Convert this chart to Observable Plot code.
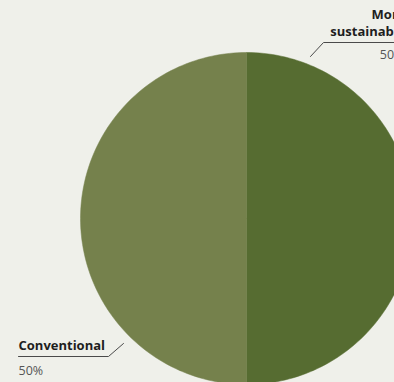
<!DOCTYPE html>
<html>
<head>
<meta charset="utf-8">
<script src="https://cdn.jsdelivr.net/npm/d3@7"></script>
<script src="https://cdn.jsdelivr.net/npm/@observablehq/plot@0.6"></script>
<style>
  html, body { margin: 0; padding: 0; background: #eff0ea; }
  #chart { width: 394px; height: 382px; overflow: hidden; }
</style>
</head>
<body>
<div id="chart"></div>
<script>
const categories = ["More sustainable", "Conventional"];
const shares = [50, 50];
const shareLabels = ["50%", "50%"];
const labelNames = ["More\nsustainable", "Conventional"];
const colors = ["#566c31", "#75814c"];

// layout (pixels)
const W = 394, H = 382, CX = 246, CY = 218, R = 166;
const X = px => (px - CX) / R;
const Y = py => (CY - py) / R;

const pie = d3.pie().sort(null).value(d => d)(shares);
const slicePts = [];
pie.forEach((s, i) => {
  slicePts.push({cat: categories[i], x: 0, y: 0});
  const n = 120;
  for (let k = 0; k <= n; k++) {
    const a = s.startAngle + (s.endAngle - s.startAngle) * k / n;
    slicePts.push({cat: categories[i], x: Math.sin(a), y: Math.cos(a)});
  }
  slicePts.push({cat: categories[i], x: 0, y: 0});
});

// leader lines (pixel layout converted to chart units)
const leaders = [
  {cat: categories[0], pts: [[310, 56], [323, 42], [400, 42]]},
  {cat: categories[1], pts: [[123, 343], [108, 356], [18, 356]]}
].flatMap(l => l.pts.map(([px, py]) => ({cat: l.cat, x: X(px), y: Y(py)})));

const names = [
  {text: labelNames[0], x: X(405), y: Y(35), anchor: "end"},
  {text: labelNames[1], x: X(18), y: Y(349), anchor: "start"}
];
const values = [
  {text: shareLabels[0], x: X(404), y: Y(58), anchor: "end"},
  {text: shareLabels[1], x: X(18), y: Y(374), anchor: "start"}
];

const font = "'Open Sans', Lato, sans-serif";
const chart = Plot.plot({
  width: W, height: H,
  margin: 0,
  style: {background: "#eff0ea", fontFamily: font, overflow: "hidden"},
  x: {domain: [X(0), X(W)], axis: null},
  y: {domain: [Y(H), Y(0)], axis: null},
  color: {domain: categories, range: colors},
  marks: [
    Plot.line(slicePts, {x: "x", y: "y", z: "cat", fill: "cat", stroke: "cat", strokeWidth: 0.5, curve: "linear"}),
    Plot.line(leaders, {x: "x", y: "y", z: "cat", stroke: "#4a4a4a", strokeWidth: 1}),
    Plot.text(names.filter(d => d.anchor === "end"), {x: "x", y: "y", text: "text", textAnchor: "end", lineAnchor: "bottom", lineHeight: 1.3, fontSize: 13, fontWeight: "bold", fill: "#1e1e1e"}),
    Plot.text(names.filter(d => d.anchor === "start"), {x: "x", y: "y", text: "text", textAnchor: "start", lineAnchor: "bottom", fontSize: 13, fontWeight: "bold", fill: "#1e1e1e"}),
    Plot.text(values.filter(d => d.anchor === "end"), {x: "x", y: "y", text: "text", textAnchor: "end", lineAnchor: "bottom", fontSize: 12.5, fill: "#555"}),
    Plot.text(values.filter(d => d.anchor === "start"), {x: "x", y: "y", text: "text", textAnchor: "start", lineAnchor: "bottom", fontSize: 12.5, fill: "#555"})
  ]
});
document.getElementById("chart").appendChild(chart);
</script>
</body>
</html>
